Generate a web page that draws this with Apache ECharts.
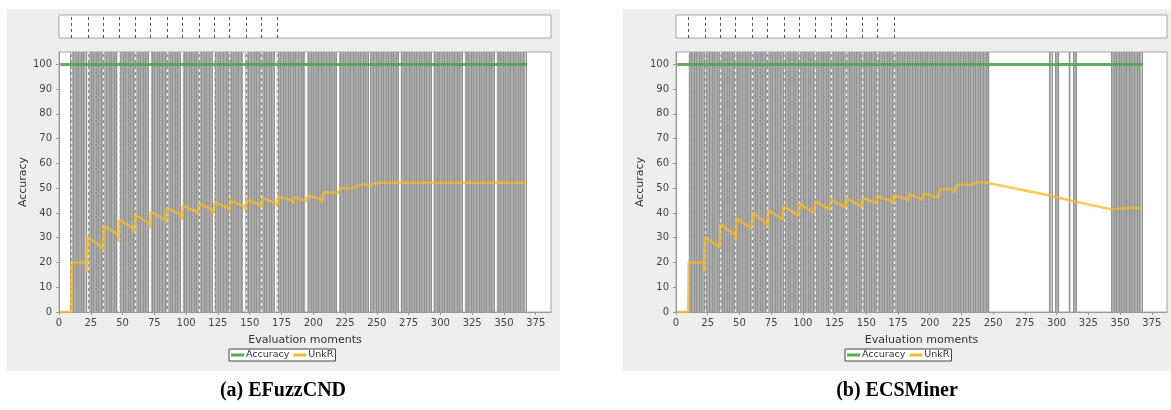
<!DOCTYPE html>
<html><head><meta charset="utf-8">
<script src="https://cdn.jsdelivr.net/npm/echarts@6/dist/echarts.min.js"></script>
<style>html,body{margin:0;padding:0;background:#fff}#c{width:1171px;height:410px}</style>
</head><body><div id="c"></div>
<script>
// ---- data ----
const noveltyMoments = [10, 23, 35, 47, 60, 72, 85, 97, 110, 122, 134, 147, 159, 172];

const accEFuzz = [[1, 100], [368, 100]];
const unkEFuzz = [[1,0],[9.5,0],[10,20],[21.5,20],[22,16.5],[22.5,30.2],[34.3,26],[34.6,24.7],[35,34.7],
  [46.3,31.5],[46.8,28.4],[47.5,37.2],[58.6,33.8],[59.2,32],[60,39.2],[71.1,35.8],[71.6,33.8],[72.3,40.5],
  [83.5,37.4],[84.2,36.1],[84.8,41.9],[95.8,39.5],[96.5,37.2],[97.4,42.8],[108.7,40.5],[109.3,39.2],[110,43.9],
  [121,41.2],[121.6,39.7],[122.4,44.3],[133.5,41.9],[134.1,40.9],[134.8,45],[146,42.6],[146.7,41.2],[147.5,45.3],
  [158.5,43.3],[159.1,42.3],[159.8,46],[171,43.9],[171.6,42.6],[172.3,46.6],[184,45],[184.5,43.6],[185,46.5],
  [194.5,44.6],[195.1,43.9],[195.8,47],[206.3,45.6],[207,44.2],[208,48.4],[219.3,48],[220,47.3],[221.5,50],
  [231,50],[232,49.3],[235,51],[240,51.6],[244,51],[247.5,51.9],[252.7,52.2],[368,52.2]];
const barsEFuzz = [[9,21],[22.6,46],[47.6,70.8],[72.4,95.7],[97.3,120.5],[122.1,144.8],[146.4,169.6],
  [171.2,193.7],[195.3,218.6],[220.2,243.2],[244.8,267.2],[268.8,293],[294.6,317.6],[319.2,342.7],[344.3,367]];

const accECS = [[1, 100], [368, 100]];
const unkECS = [[1,0],[9.5,0],[10,20],[21.5,20],[22.2,16.3],[23,30.2],[34.3,26.1],[35,35.5],[46.8,31.1],
  [47.1,28.8],[47.5,37.8],[59.5,33.8],[60.3,40.3],[71.6,35.5],[72.1,34.4],[72.7,41.2],[83.9,37.4],[84.8,42.8],
  [96.7,38.8],[97.5,43.7],[109,40.1],[109.8,44.6],[121.2,41.5],[122,45.3],[133.7,42.3],[134.3,46],[146.2,42.6],
  [147,46],[158.5,43.9],[159.2,46.8],[170.5,44.6],[171,43.6],[171.7,47],[182,45.6],[183,44.6],[183.6,47.7],
  [194.5,45.3],[195.2,48],[206.5,46.2],[208,49.6],[218,49.6],[219.5,48.2],[221.5,51.4],[232.5,51.4],
  [237.6,52.4],[242.8,52.4],[246.7,52],[253,51.4],[292,47.3],[318,44.2],[343,41.5],[344.5,41.9],[360,42.1],[367.8,41.9]];
const barsECS = [[10,247],[294,296],[299,302],[309.5,311],[313,315.5],[343,367]];

const xTickStep = 25, yTickStep = 10;
const xMax = 387, yMax = 105;
const captions = ['(a) EFuzzCND', '(b) ECSMiner'];

// ---- chart ----
const FONT = 'DejaVu Sans';
const panels = [
  {bg:[7,9,553,362], left:59, width:492, capX:283, legX:229, acc:accEFuzz, unk:unkEFuzz, bars:barsEFuzz},
  {bg:[623,9,548,362], left:676, width:491, capX:897, legX:845, acc:accECS, unk:unkECS, bars:barsECS}
];
const grids = [], xAxes = [], yAxes = [], series = [], legends = [], graphics = [];

function renderBars(params, api) {
  const s = api.value(0), e = api.value(1);
  const p0 = api.coord([s, yMax]), p1 = api.coord([e, 0]);
  const children = [{type:'rect', shape:{x:p0[0], y:p0[1], width:p1[0]-p0[0], height:p1[1]-p0[1]},
    style:{fill:'#acacac'}}];
  for (let k = Math.ceil(s); k <= e; k += 2) {
    const x = Math.round(api.coord([k, 0])[0]) + 0.5;
    children.push({type:'line', shape:{x1:x, y1:p0[1], x2:x, y2:p1[1]}, style:{stroke:'#939393', lineWidth:1}});
  }
  return {type:'group', children};
}

panels.forEach((p, i) => {
  graphics.push({type:'rect', z:-100, shape:{x:p.bg[0], y:p.bg[1], width:p.bg[2], height:p.bg[3]}, style:{fill:'#eeeeee'}});
  graphics.push({type:'text', z:10, x:p.capX, y:391, style:{text:captions[i], font:'bold 20px "Liberation Serif"', fill:'#000', textAlign:'center', textVerticalAlign:'middle'}});
  const gs = grids.length;
  grids.push({left:p.left, top:15, width:p.width, height:23, show:true, backgroundColor:'#fff', borderColor:'#a6a6a6', borderWidth:1});
  grids.push({left:p.left, top:52, width:p.width, height:260, show:true, backgroundColor:'#fff', borderColor:'#a6a6a6', borderWidth:1});
  xAxes.push({gridIndex:gs, type:'value', min:0, max:xMax, interval:xTickStep, show:false});
  yAxes.push({gridIndex:gs, type:'value', min:0, max:1, show:false});
  xAxes.push({gridIndex:gs+1, type:'value', min:0, max:xMax, interval:xTickStep, offset:2,
    name:'Evaluation moments', nameLocation:'middle', nameGap:21,
    nameTextStyle:{fontFamily:FONT, fontSize:11, color:'#333'},
    axisLine:{lineStyle:{color:'#999'}}, axisTick:{length:3, lineStyle:{color:'#999'}},
    axisLabel:{fontFamily:FONT, fontSize:10, color:'#444', margin:4, showMaxLabel:false}, splitLine:{show:false}});
  yAxes.push({gridIndex:gs+1, type:'value', min:0, max:yMax, interval:yTickStep, offset:2,
    name:'Accuracy', nameLocation:'middle', nameGap:28, nameRotate:90,
    nameTextStyle:{fontFamily:FONT, fontSize:11, color:'#333'},
    axisLine:{show:true, lineStyle:{color:'#999'}}, axisTick:{show:true, length:3, lineStyle:{color:'#999'}},
    axisLabel:{fontFamily:FONT, fontSize:10, color:'#444', margin:5, showMaxLabel:false}, splitLine:{show:false}});
  const xa = xAxes.length - 1, ya = yAxes.length - 1;
  series.push({type:'line', xAxisIndex:xa-1, yAxisIndex:ya-1, data:[], silent:true,
    markLine:{silent:true, symbol:'none', label:{show:false},
      lineStyle:{color:'#555', type:[3,3], width:1}, data:noveltyMoments.map(v => ({xAxis:v}))}});
  series.push({type:'custom', xAxisIndex:xa, yAxisIndex:ya, data:p.bars, renderItem:renderBars, clip:true,
    encode:{x:[0,1]}, silent:true, z:1,
    markLine:{silent:true, symbol:'none', label:{show:false},
      lineStyle:{color:'#eeeeee', type:[3,3], width:1.2}, data:noveltyMoments.map(v => ({xAxis:v}))}});
  series.push({name:'Accuracy', type:'line', xAxisIndex:xa, yAxisIndex:ya, data:p.acc, showSymbol:false, z:5,
    lineStyle:{color:'rgba(80,165,80,0.9)', width:3}, itemStyle:{color:'#55aa55'}});
  series.push({name:'UnkR', type:'line', xAxisIndex:xa, yAxisIndex:ya, data:p.unk, showSymbol:false, z:6,
    lineStyle:{color:'rgba(245,185,40,0.75)', width:2.6}, itemStyle:{color:'#f5b82a'}});
  legends.push({data:['Accuracy','UnkR'], left:p.legX, top:349, orient:'horizontal',
    backgroundColor:'#fff', borderColor:'#444', borderWidth:1, padding:[1,2], itemGap:4, itemWidth:13, itemHeight:3,
    icon:'rect', selectedMode:false, textStyle:{fontFamily:FONT, fontSize:9.5, color:'#333', padding:[0,0,0,-3]}});
});

const chart = echarts.init(document.getElementById('c'), null, {renderer:'canvas'});
chart.setOption({
  backgroundColor:'#ffffff', animation:false,
  grid:grids, xAxis:xAxes, yAxis:yAxes, series, legend:legends, graphic:graphics
});
</script></body></html>
